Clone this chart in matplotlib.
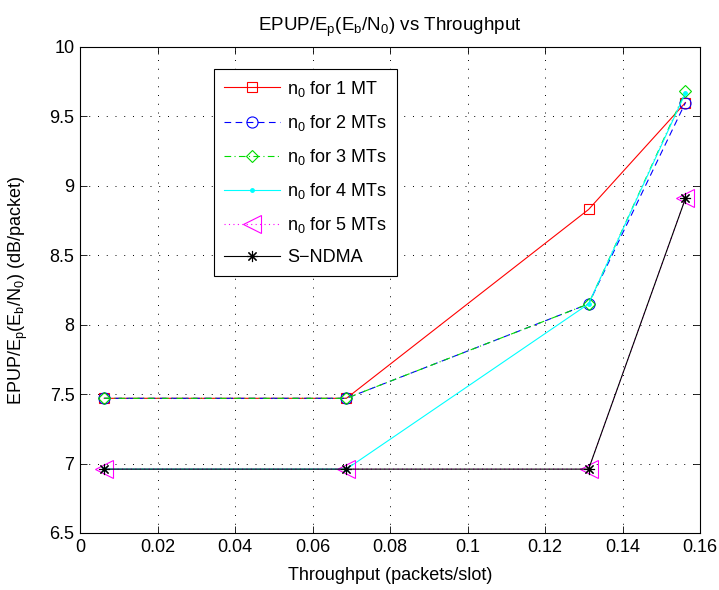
import matplotlib
matplotlib.use("Agg")
import matplotlib.pyplot as plt

plt.rcParams['font.family'] = ['Liberation Sans', 'DejaVu Sans']
plt.rcParams['mathtext.fontset'] = 'custom'
plt.rcParams['mathtext.rm'] = 'Liberation Sans'
plt.rcParams['font.size'] = 13

# data
throughput = [0.00625, 0.06875, 0.13125, 0.15625]
n0_1mt = [7.47, 7.47, 8.83, 9.60]
n0_2mt = [7.47, 7.47, 8.15, 9.60]
n0_3mt = [7.47, 7.47, 8.15, 9.68]
n0_4mt = [6.96, 6.96, 8.15, 9.67]
n0_5mt = [6.96, 6.96, 6.96, 8.91]
sndma = [6.96, 6.96, 6.96, 8.91]

sub0 = r'$_{\mathregular{0}}$'
labels = ['n' + sub0 + ' for 1 MT', 'n' + sub0 + ' for 2 MTs',
          'n' + sub0 + ' for 3 MTs', 'n' + sub0 + ' for 4 MTs',
          'n' + sub0 + ' for 5 MTs', 'S\u2212NDMA']

fig = plt.figure(figsize=(7.19, 5.90), dpi=100)
ax = fig.add_axes([80 / 719, 1 - 533 / 590, 620 / 719, 486 / 590])

lw = 0.8
ax.plot(throughput, n0_1mt, color='red', ls='-', lw=lw, marker='s', ms=7, mfc='none', mew=0.8, label=labels[0])
ax.plot(throughput, n0_2mt, color='blue', ls=(0, (6, 4)), lw=lw, marker='o', ms=8, mfc='none', mew=0.8, label=labels[1])
ax.plot(throughput, n0_3mt, color='#00dd00', ls=(0, (6, 3, 1, 3)), lw=lw, marker='D', ms=6.5, mfc='none', mew=0.8, label=labels[2])
ax.plot(throughput, n0_4mt, color='cyan', ls='-', lw=lw, marker='.', ms=5, label=labels[3])
ax.plot(throughput, n0_5mt, color='magenta', ls=(0, (1, 3)), lw=lw, marker='<', ms=13, mfc='none', mew=0.8, label=labels[4])
ax.plot(throughput, sndma, color='black', ls='-', lw=lw, marker=(8, 2, 0), ms=8, mew=0.8, label=labels[5])

ax.set_xlim(0, 0.16)
ax.set_ylim(6.5, 10)
ax.set_xticks([0, 0.02, 0.04, 0.06, 0.08, 0.1, 0.12, 0.14, 0.16])
ax.set_xticklabels(['0', '0.02', '0.04', '0.06', '0.08', '0.1', '0.12', '0.14', '0.16'])
ax.set_yticks([6.5, 7, 7.5, 8, 8.5, 9, 9.5, 10])
ax.set_yticklabels(['6.5', '7', '7.5', '8', '8.5', '9', '9.5', '10'])
ax.tick_params(direction='in', top=True, right=True, length=5, width=0.6, pad=4)
ax.grid(True, color='black', ls=(0, (1, 8)), lw=0.7)
for s in ax.spines.values():
    s.set_linewidth(0.8)

ax.set_title(r'EPUP/E$_{\mathregular{p}}$(E$_{\mathregular{b}}$/N$_{\mathregular{0}}$) vs Throughput',
             fontsize=13.5, pad=12)
ax.set_xlabel('Throughput (packets/slot)', labelpad=8)
ax.set_ylabel(r'EPUP/E$_{\mathregular{p}}$(E$_{\mathregular{b}}$/N$_{\mathregular{0}}$) (dB/packet)', fontsize=13)
ax.yaxis.set_label_coords(-0.08, 0.5)

leg = ax.legend(loc='upper left', bbox_to_anchor=(0.216, 0.955), fancybox=False, framealpha=1,
                edgecolor='black', handlelength=3.1, handletextpad=0.4, labelspacing=0.78,
                borderpad=0.55, borderaxespad=0)
leg.get_frame().set_linewidth(0.8)

fig.savefig('out.png', dpi=100)
